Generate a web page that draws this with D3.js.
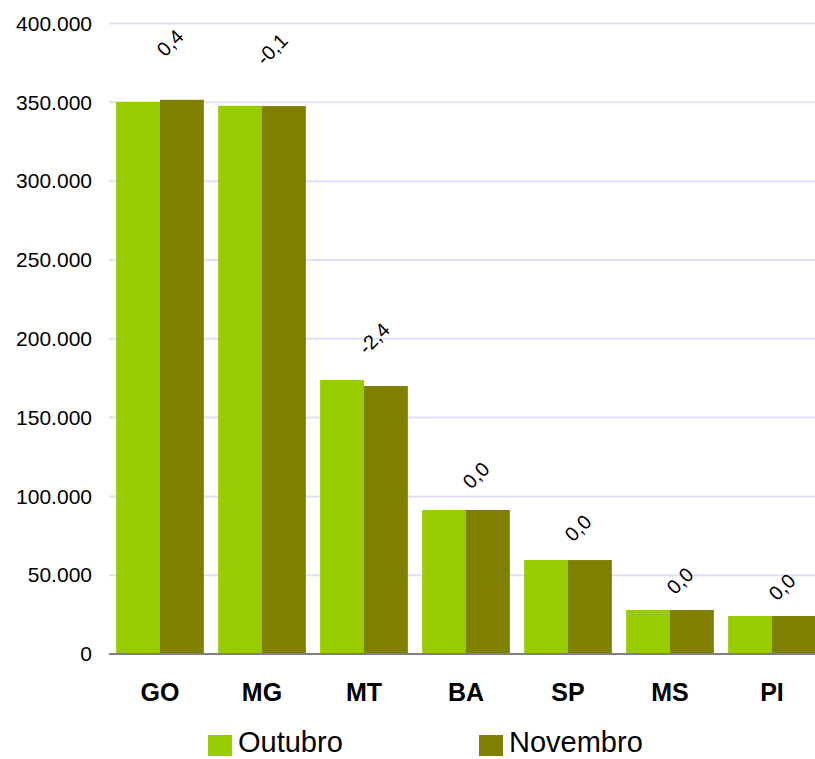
<!DOCTYPE html>
<html>
<head>
<meta charset="utf-8">
<script src="https://cdn.jsdelivr.net/npm/d3@7"></script>
<style>
  body { margin: 0; background: #fff; }
  svg { display: block; font-family: Arial, "Liberation Sans", sans-serif; }
</style>
</head>
<body>
<svg width="815" height="759"></svg>
<script>
// data
const categories = ["GO", "MG", "MT", "BA", "SP", "MS", "PI"];
const seriesNames = ["Outubro", "Novembro"];
const outubro  = [350200, 347800, 173800, 91400, 59600, 27900, 24100];
const novembro = [351600, 347600, 170000, 91400, 59600, 27900, 24100];
const variacao = ["0,4", "-0,1", "-2,4", "0,0", "0,0", "0,0", "0,0"];
const yTicks = [0, 50000, 100000, 150000, 200000, 250000, 300000, 350000, 400000];

const colors = ["#99cc00", "#808000"];

let svg = d3.select("svg");

let x = d3.scaleBand()
    .domain(categories)
    .range([109, 823])
    .paddingInner(0.14)
    .paddingOuter(0.07);

let xSub = d3.scaleBand()
    .domain(seriesNames)
    .range([0, x.bandwidth()]);

let y = d3.scaleLinear()
    .domain([0, 400000])
    .range([654, 23.5]);

let ptBR = d3.formatLocale({ decimal: ",", thousands: ".", grouping: [3], currency: ["", ""] });
let fmt = ptBR.format(",");

// gridlines
svg.append("g")
    .attr("class", "grid")
    .selectAll("line")
    .data(yTicks.filter(d => d > 0))
    .enter().append("line")
    .attr("x1", 109).attr("x2", 815)
    .attr("y1", d => y(d)).attr("y2", d => y(d))
    .attr("stroke", "#e0e0fc")
    .attr("stroke-width", 2);

// y axis labels
let yAxis = svg.append("g")
    .attr("transform", "translate(109,0)")
    .call(d3.axisLeft(y).tickValues(yTicks).tickFormat(fmt).tickSize(0).tickPadding(17));
yAxis.select(".domain").remove();
yAxis.selectAll("text")
    .attr("font-size", 21)
    .attr("font-family", "Arial, 'Liberation Sans', sans-serif")
    .attr("fill", "#000");

// bars
let rows = categories.map((c, i) => ({ cat: c, values: [outubro[i], novembro[i]], label: variacao[i] }));

let groups = svg.append("g")
    .attr("class", "bars")
    .selectAll("g")
    .data(rows)
    .enter().append("g")
    .attr("transform", d => "translate(" + x(d.cat) + ",0)");

groups.selectAll("rect")
    .data(d => d.values.map((v, j) => ({ name: seriesNames[j], value: v, idx: j })))
    .enter().append("rect")
    .attr("x", d => xSub(d.name))
    .attr("width", xSub.bandwidth())
    .attr("y", d => y(d.value))
    .attr("height", d => y(0) - y(d.value))
    .attr("fill", d => colors[d.idx]);

// zero line
svg.append("line")
    .attr("x1", 109).attr("x2", 815)
    .attr("y1", y(0)).attr("y2", y(0))
    .attr("stroke", "#7f7f7f")
    .attr("stroke-width", 2);

// rotated variation labels
groups.append("text")
    .attr("transform", d => {
        let top = y(d3.max(d.values));
        let cy = top - 27 - 0.054 * (y(0) - top);
        let cx = x.bandwidth() / 2 + 10;
        return "translate(" + cx + "," + cy + ") rotate(-45)";
    })
    .attr("text-anchor", "middle")
    .attr("dy", "0.35em")
    .attr("font-size", 20)
    .attr("fill", "#000")
    .text(d => d.label);

// category labels
svg.append("g")
    .selectAll("text")
    .data(categories)
    .enter().append("text")
    .attr("x", d => x(d) + x.bandwidth() / 2)
    .attr("y", 701)
    .attr("text-anchor", "middle")
    .attr("font-size", 25)
    .attr("font-weight", "bold")
    .attr("fill", "#000")
    .text(d => d);

// legend
let legendX = [208, 479];
let legend = svg.append("g")
    .selectAll("g")
    .data(seriesNames)
    .enter().append("g")
    .attr("transform", (d, i) => "translate(" + legendX[i] + ",0)");

legend.append("rect")
    .attr("x", 0).attr("y", 735)
    .attr("width", 24).attr("height", 21)
    .attr("fill", (d, i) => colors[i]);

legend.append("text")
    .attr("x", 30).attr("y", 752)
    .attr("font-size", 29)
    .attr("fill", "#000")
    .text(d => d);
</script>
</body>
</html>
